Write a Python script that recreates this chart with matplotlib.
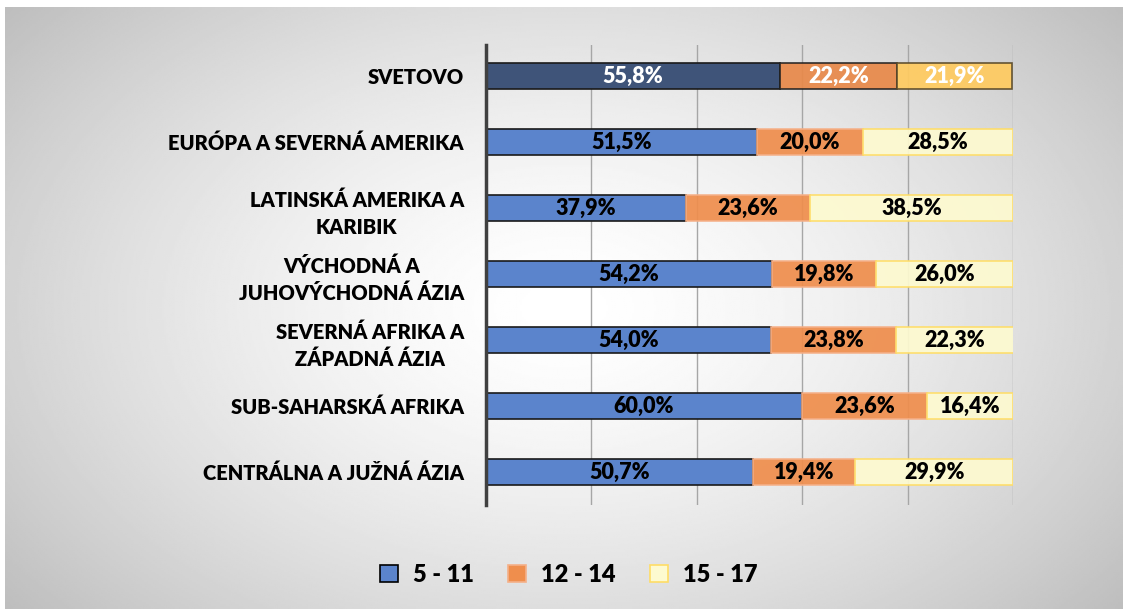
import numpy as np
import matplotlib
matplotlib.use("Agg")
import matplotlib.pyplot as plt
from matplotlib.patches import Patch

plt.rcParams['font.family'] = ['Lato', 'DejaVu Sans']

categories = ["SVETOVO", "EURÓPA A SEVERNÁ AMERIKA", "LATINSKÁ AMERIKA A\nKARIBIK",
              "VÝCHODNÁ A\nJUHOVÝCHODNÁ ÁZIA", "SEVERNÁ AFRIKA A\nZÁPADNÁ ÁZIA",
              "SUB-SAHARSKÁ AFRIKA", "CENTRÁLNA A JUŽNÁ ÁZIA"]
series_names = ["5 - 11", "12 - 14", "15 - 17"]
v_5_11 = [55.8, 51.5, 37.9, 54.2, 54.0, 60.0, 50.7]
v_12_14 = [22.2, 20.0, 23.6, 19.8, 23.8, 23.6, 19.4]
v_15_17 = [21.9, 28.5, 38.5, 26.0, 22.3, 16.4, 29.9]

W, H = 1123, 609
fig = plt.figure(figsize=(W/100, H/100), dpi=100)
fig.patch.set_facecolor('white')

# radial gradient background
bg = fig.add_axes([5/W, 0, 1-5/W, 1-7/H], zorder=-10)
yy, xx = np.mgrid[0:1:300j, 0:1:600j]
r = np.sqrt(((xx-0.5)/0.62)**2 + ((yy-0.5)/0.75)**2)
val = np.clip(1.0 - 0.24*np.clip(r, 0, 1.3)**1.5, 0, 1)
bg.imshow(val, cmap='gray', vmin=0, vmax=1, aspect='auto', extent=[0, 1, 0, 1])
bg.axis('off')

ax = fig.add_axes([486/W, 1-505/H, (1013-486)/W, (505-45)/H])
ax.patch.set_alpha(0)

y = np.arange(len(categories))
h = 0.4

fill1 = ['#3F5479'] + ['#5B84CC']*6
fill2 = ['#E8894A'] + ['#EF8E4D']*6
fill3 = ['#FFCB60'] + ['#FDFAD0']*6
edge1 = ['#1a1a1a']*7
edge2 = ['#222222'] + ['#F5B088']*6
edge3 = ['#5a4a2a'] + ['#FFDD66']*6


def fmt(v):
    return f"{v:.1f}%".replace('.', ',')


for i in range(len(y)):
    ax.barh(y[i], v_5_11[i], height=h, left=0, color=fill1[i], edgecolor=edge1[i], linewidth=1.2, zorder=3)
    ax.barh(y[i], v_12_14[i], height=h, left=v_5_11[i], color=fill2[i], edgecolor=edge2[i], linewidth=1.2, alpha=0.93, zorder=3)
    ax.barh(y[i], v_15_17[i], height=h, left=v_5_11[i]+v_12_14[i], color=fill3[i], edgecolor=edge3[i], linewidth=1.2, alpha=0.93, zorder=3)
    tc = 'white' if i == 0 else 'black'
    kw = dict(ha='center', va='center', fontsize=15.5, fontweight='heavy', color=tc, zorder=5)
    ax.text(v_5_11[i]/2, y[i], fmt(v_5_11[i]), **kw)
    ax.text(v_5_11[i]+v_12_14[i]/2, y[i], fmt(v_12_14[i]), **kw)
    ax.text(v_5_11[i]+v_12_14[i]+v_15_17[i]/2, y[i], fmt(v_15_17[i]), **kw)

ax.set_xlim(0, 100)
ax.set_ylim(6.5, -0.47)
ax.set_xticks([0, 20, 40, 60, 80, 100])
ax.set_xticklabels([])
ax.tick_params(axis='x', length=0)
ax.grid(axis='x', color='#a6a6a6', linewidth=1, zorder=1)
ax.set_yticks(y)
ax.set_yticklabels(categories, fontsize=14.5, fontweight='heavy', multialignment='center', linespacing=1.5)
ax.tick_params(axis='y', length=0, pad=16)
for s in ['top', 'right', 'bottom']:
    ax.spines[s].set_visible(False)
ax.spines['left'].set_color('#404040')
ax.spines['left'].set_linewidth(2.5)
ax.spines['left'].set_zorder(6)

handles = [Patch(facecolor='#5B84CC', edgecolor='black', linewidth=1.2),
           Patch(facecolor='#EF8E4D', edgecolor='#F5B088', linewidth=1.2),
           Patch(facecolor='#FDFAD0', edgecolor='#FFDD66', linewidth=1.2)]
leg = fig.legend(handles, series_names, loc='center', bbox_to_anchor=(569/W, 1-575/H), ncol=3,
                 frameon=False, prop={'size': 17, 'weight': 'heavy'}, handlelength=0.75, handleheight=0.75,
                 columnspacing=1.45, handletextpad=0.65)

fig.savefig('out.png', dpi=100)
